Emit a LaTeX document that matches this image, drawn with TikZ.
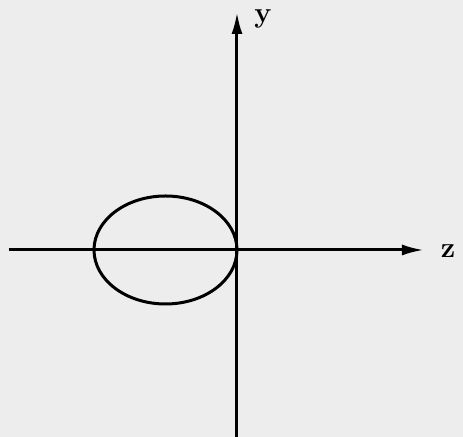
\documentclass[tikz,border=0pt]{standalone}
\usepackage{tikz}
\usetikzlibrary{arrows.meta,shapes.geometric}

\begin{document}
\begin{tikzpicture}[
    x=0.5pt, y=-0.5pt,
    axis/.style={line width=1.5pt, -{Latex[length=11pt,width=5.5pt]}},
    lbl/.style={font=\bfseries\Large, inner sep=0pt},
    orbit/.style={draw, ellipse, line width=1.5pt, minimum width=71.5pt, minimum height=54pt, inner sep=0pt}
]
    % scanned-paper background
    \fill[black!7] (0,0) rectangle (463,437);
    \useasboundingbox (0,0) rectangle (463,437);

    \coordinate (zstart) at (9,250);
    \coordinate (zend) at (424,250);
    \coordinate (ystart) at (237,437);
    \coordinate (yend) at (237,12);

    \draw[axis] (zstart) -- (zend);
    \draw[axis] (ystart) -- (yend);

    \node[lbl] (ylab) at (263,19) {y};
    \node[lbl] (zlab) at (448,251) {z};

    \node[orbit] (loop) at (165.5,250) {};
\end{tikzpicture}
\end{document}
